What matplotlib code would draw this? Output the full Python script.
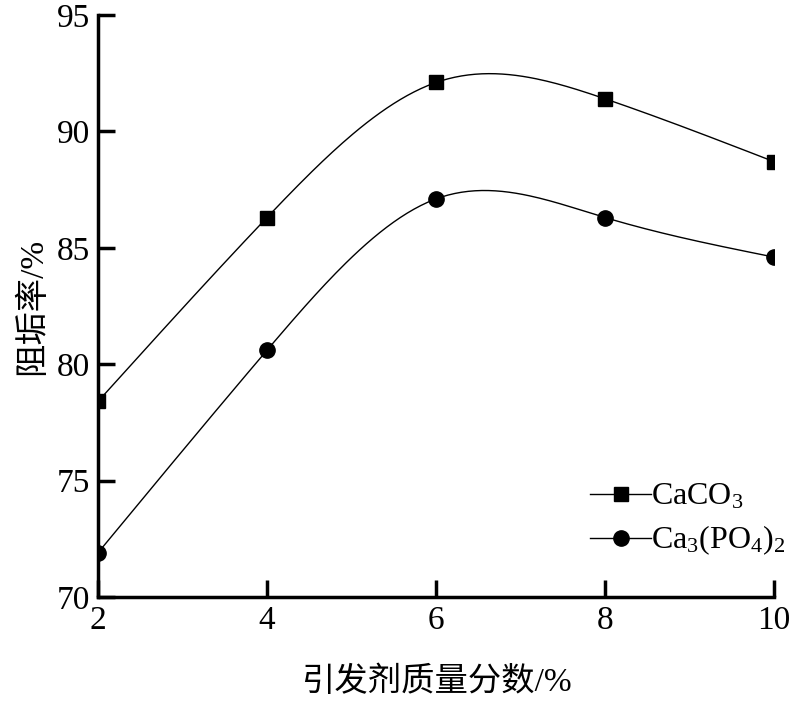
import matplotlib
matplotlib.use("Agg")
import matplotlib.pyplot as plt
import numpy as np

plt.rcParams["font.family"] = ["Liberation Serif", "Noto Sans CJK SC"]
plt.rcParams["mathtext.fontset"] = "custom"
plt.rcParams["mathtext.rm"] = "Liberation Serif"
plt.rcParams["mathtext.it"] = "Liberation Serif:italic"

initiator = [2, 4, 6, 8, 10]
caco3 = [78.4, 86.3, 92.1, 91.4, 88.7]
ca3po42 = [71.9, 80.6, 87.1, 86.3, 84.6]


def natural_spline(x, y, n=200):
    # natural cubic spline, used only to draw a smooth line through the points
    x = np.asarray(x, float)
    y = np.asarray(y, float)
    k = len(x)
    h = np.diff(x)
    A = np.zeros((k, k))
    b = np.zeros(k)
    A[0, 0] = A[-1, -1] = 1
    for i in range(1, k - 1):
        A[i, i - 1] = h[i - 1]
        A[i, i] = 2 * (h[i - 1] + h[i])
        A[i, i + 1] = h[i]
        b[i] = 6 * ((y[i + 1] - y[i]) / h[i] - (y[i] - y[i - 1]) / h[i - 1])
    m = np.linalg.solve(A, b)
    xs = np.linspace(x[0], x[-1], n)
    idx = np.clip(np.searchsorted(x, xs) - 1, 0, k - 2)
    x0, x1 = x[idx], x[idx + 1]
    hh = x1 - x0
    t0, t1 = x1 - xs, xs - x0
    ys = (m[idx] * t0 ** 3 + m[idx + 1] * t1 ** 3) / (6 * hh) \
        + (y[idx] / hh - m[idx] * hh / 6) * t0 \
        + (y[idx + 1] / hh - m[idx + 1] * hh / 6) * t1
    return xs, ys


fig = plt.figure(figsize=(8.06, 7.06), dpi=100)
ax = fig.add_axes([0.1216, 0.1544, 0.8387, 0.8244])

for vals, marker, ms, label in [
    (caco3, "s", 10, r"CaCO$_3$"),
    (ca3po42, "o", 11, r"Ca$_3$(PO$_4$)$_2$"),
]:
    xs, ys = natural_spline(initiator, vals)
    ax.plot(xs, ys, color="black", lw=1.0)
    ax.plot(initiator, vals, linestyle="none", marker=marker, ms=ms, color="black")
    ax.plot([], [], color="black", lw=1.0, marker=marker, ms=ms, label=label)

ax.set_xlim(2, 10)
ax.set_ylim(70, 95)
ax.set_xticks([2, 4, 6, 8, 10])
ax.set_yticks([70, 75, 80, 85, 90, 95])
for s in ["top", "right"]:
    ax.spines[s].set_visible(False)
for s in ["left", "bottom"]:
    ax.spines[s].set_linewidth(2.5)
ax.tick_params(direction="in", length=12, width=2.5, labelsize=24, pad=6)
for p in ax.get_xticklabels() + ax.get_yticklabels():
    p.set_clip_on(False)

ax.set_xlabel("引发剂质量分数/%", fontsize=24, labelpad=22)
ax.set_ylabel("阻垢率/%", fontsize=24, labelpad=6)

ax.legend(loc="upper left", bbox_to_anchor=(0.70, 0.23), frameon=False,
          fontsize=23, handlelength=1.9, handletextpad=0.0, labelspacing=0.38,
          borderpad=0.1)

fig.savefig("out.png", dpi=100)
